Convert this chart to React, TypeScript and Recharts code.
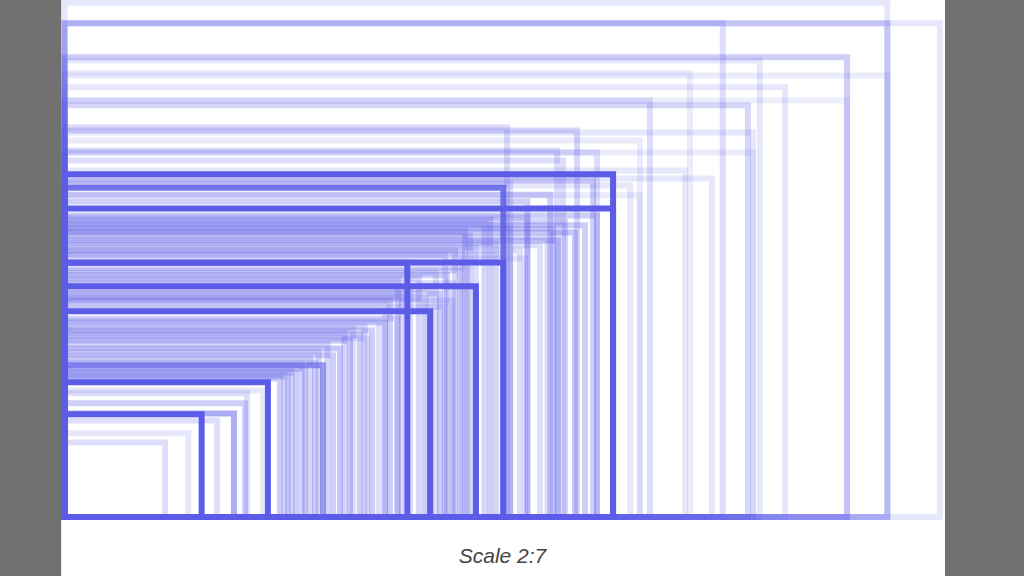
import { ComposedChart, XAxis, YAxis, ReferenceArea } from 'recharts';

// viewport sizes in device pixels, drawn at 2:7. a = stroke opacity
const largeViewports = [
  { w: 3064, h: 1728, a: 0.15 },
  { w: 2880, h: 1800, a: 0.15 },
  { w: 2880, h: 1728, a: 0.25 },
  { w: 2304, h: 1728, a: 0.2 },
  { w: 2739, h: 1609, a: 0.3 },
  { w: 2434, h: 1598, a: 0.15 },
  { w: 2880, h: 1545, a: 0.12 },
  { w: 2189, h: 1553, a: 0.12 },
  { w: 2522, h: 1504, a: 0.15 },
  { w: 2739, h: 1458, a: 0.1 },
  { w: 2392, h: 1441, a: 0.25 },
  { w: 2049, h: 1458, a: 0.2 },
  { w: 2410, h: 1346, a: 0.15 },
  { w: 2014, h: 1318, a: 0.12 },
];

const upperViewports = [
  { w: 1794, h: 1353, a: 0.25 },
  { w: 1549, h: 1364, a: 0.2 },
  { w: 1864, h: 1276, a: 0.2 },
  { w: 2410, h: 1276, a: 0.12 },
  { w: 2172, h: 1213, a: 0.15 },
  { w: 2266, h: 1185, a: 0.15 },
  { w: 1724, h: 1283, a: 0.2 },
  { w: 1745, h: 1248, a: 0.2 },
  { w: 1980, h: 1160, a: 0.15 },
  { w: 2014, h: 1126, a: 0.12 },
  { w: 1850, h: 1178, a: 0.3 },
  { w: 1700, h: 1128, a: 0.3 },
  { w: 1620, h: 1104, a: 0.3 },
  { w: 1560, h: 1168, a: 0.2 },
];

const commonViewports = [
  { w: 1920, h: 1200, a: 1 },
  { w: 1920, h: 1080, a: 1 },
  { w: 1536, h: 1152, a: 0.85 },
  { w: 1536, h: 891, a: 1 },
  { w: 1440, h: 808, a: 1 },
  { w: 1200, h: 890, a: 1 },
  { w: 1280, h: 720, a: 1 },
  { w: 905, h: 531, a: 0.6 },
  { w: 712, h: 472, a: 1 },
  { w: 480, h: 360, a: 1 },
];

const midViewports = [
  { w: 1864, h: 1055, a: 0.3 },
  { w: 1822, h: 1021, a: 0.3 },
  { w: 1787, h: 996, a: 0.35 },
  { w: 1752, h: 1033, a: 0.25 },
  { w: 1727, h: 968, a: 0.35 },
  { w: 1710, h: 1010, a: 0.3 },
  { w: 1664, h: 951, a: 0.2 },
  { w: 1594, h: 933, a: 0.2 },
  { w: 1490, h: 1040, a: 0.3 },
  { w: 1402, h: 1001, a: 0.3 },
  { w: 1367, h: 933, a: 0.25 },
  { w: 1332, h: 916, a: 0.2 },
  { w: 1559, h: 916, a: 0.15 },
  { w: 1612, h: 905, a: 0.15 },
  { w: 1620, h: 1048, a: 0.25 },
  { w: 1470, h: 1026, a: 0.25 },
  { w: 1560, h: 1012, a: 0.2 },
  { w: 1420, h: 985, a: 0.25 },
  { w: 1690, h: 978, a: 0.2 },
  { w: 1510, h: 958, a: 0.25 },
  { w: 1440, h: 942, a: 0.2 },
  { w: 1390, h: 922, a: 0.2 },
  { w: 1384, h: 863, a: 0.25 },
  { w: 1339, h: 846, a: 0.3 },
  { w: 1314, h: 782, a: 0.3 },
  { w: 1262, h: 765, a: 0.3 },
  { w: 1167, h: 828, a: 0.25 },
  { w: 1139, h: 758, a: 0.3 },
  { w: 1122, h: 741, a: 0.2 },
  { w: 1357, h: 758, a: 0.2 },
  { w: 1410, h: 872, a: 0.2 },
  { w: 1300, h: 855, a: 0.2 },
  { w: 1240, h: 836, a: 0.25 },
  { w: 1360, h: 818, a: 0.2 },
  { w: 1280, h: 798, a: 0.2 },
  { w: 1210, h: 790, a: 0.2 },
  { w: 1180, h: 772, a: 0.25 },
  { w: 1330, h: 735, a: 0.2 },
];

const smallViewports = [
  { w: 1164, h: 695, a: 0.25 },
  { w: 1122, h: 681, a: 0.3 },
  { w: 1076, h: 653, a: 0.3 },
  { w: 1034, h: 636, a: 0.3 },
  { w: 999, h: 618, a: 0.35 },
  { w: 964, h: 590, a: 0.35 },
  { w: 940, h: 566, a: 0.3 },
  { w: 877, h: 541, a: 0.3 },
  { w: 842, h: 520, a: 0.35 },
  { w: 810, h: 506, a: 0.3 },
  { w: 782, h: 492, a: 0.3 },
  { w: 754, h: 485, a: 0.3 },
  { w: 1100, h: 688, a: 0.2 },
  { w: 1050, h: 668, a: 0.25 },
  { w: 1010, h: 660, a: 0.2 },
  { w: 980, h: 645, a: 0.25 },
  { w: 1060, h: 626, a: 0.2 },
  { w: 920, h: 604, a: 0.25 },
  { w: 890, h: 578, a: 0.25 },
  { w: 860, h: 556, a: 0.25 },
  { w: 830, h: 534, a: 0.25 },
  { w: 795, h: 512, a: 0.25 },
  { w: 770, h: 498, a: 0.25 },
  { w: 695, h: 443, a: 0.15 },
  { w: 639, h: 433, a: 0.2 },
  { w: 632, h: 398, a: 0.3 },
  { w: 593, h: 362, a: 0.5 },
  { w: 534, h: 338, a: 0.2 },
  { w: 433, h: 293, a: 0.15 },
  { w: 352, h: 261, a: 0.2 },
];

const allViewports = [
  ...largeViewports,
  ...upperViewports,
  ...midViewports,
  ...smallViewports,
  ...commonViewports,
];

const caption = 'Scale 2:7';

export default function App() {
  return (
    <div style={{ position: 'absolute', left: 0, top: 0, width: 1024, height: 576, background: '#717171', overflow: 'hidden' }}>
      <div style={{ position: 'absolute', left: 61, top: 0, width: 883, height: 576, background: '#fff', borderLeft: '1px solid #e6e6e6' }} />
      <div style={{ position: 'absolute', left: 0, top: 0, filter: 'blur(0.4px)' }}>
        <ComposedChart width={1024} height={576} data={allViewports} margin={{ top: 0, left: 64.5, right: 79.5, bottom: 59 }}>
          <XAxis type="number" dataKey="w" domain={[0, 3080]} allowDataOverflow hide />
          <YAxis type="number" dataKey="h" domain={[0, 1809.5]} allowDataOverflow hide />
          {allViewports.map((v, i) => (
            <ReferenceArea
              key={i}
              x1={0}
              x2={v.w}
              y1={0}
              y2={v.h}
              fill="none"
              stroke="#5c5ce8"
              strokeWidth={6}
              strokeOpacity={v.a}
              ifOverflow="visible"
            />
          ))}
        </ComposedChart>
      </div>
      <div style={{ position: 'absolute', left: 61, width: 883, top: 544, textAlign: 'center', fontFamily: '"Liberation Sans", Arial, sans-serif', fontStyle: 'italic', fontSize: 21, color: '#444' }}>
        {caption}
      </div>
    </div>
  );
}
